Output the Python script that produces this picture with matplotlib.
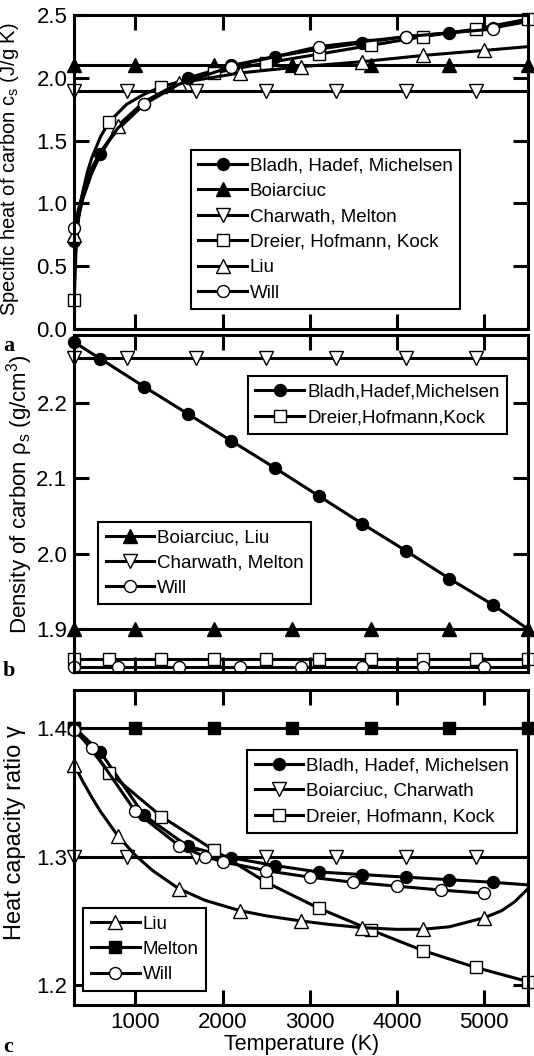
import matplotlib
matplotlib.use('Agg')
import matplotlib.pyplot as plt

plt.rcParams['font.family'] = ['Liberation Sans', 'DejaVu Sans']
plt.rcParams['mathtext.fontset'] = 'custom'
plt.rcParams['mathtext.rm'] = 'Liberation Sans'
plt.rcParams['mathtext.it'] = 'Liberation Sans'
plt.rcParams['mathtext.default'] = 'regular'

# ---------------- data: panel a, specific heat (J/g K) ----------------
a_bladh_T = [300, 350, 400, 500, 600, 700, 800, 1100, 1300, 1600, 2100, 2600, 3100, 3600, 4100, 4600, 5100, 5500]
a_bladh_v = [0.70, 0.90, 1.05, 1.25, 1.39, 1.50, 1.59, 1.79, 1.88, 2.00, 2.10, 2.17, 2.23, 2.28, 2.33, 2.36, 2.40, 2.45]
a_bladh_m = [300, 600, 1100, 1600, 2100, 2600, 3100, 3600, 4100, 4600, 5100]

a_boi_T = [300, 1000, 1900, 2800, 3700, 4600, 5500]
a_boi_v = [2.1, 2.1, 2.1, 2.1, 2.1, 2.1, 2.1]
a_boi_m = [300, 1000, 1900, 2800, 3700, 4600, 5500]

a_charw_T = [300, 900, 1700, 2500, 3300, 4100, 4900, 5500]
a_charw_v = [1.9, 1.9, 1.9, 1.9, 1.9, 1.9, 1.9, 1.9]
a_charw_m = [300, 900, 1700, 2500, 3300, 4100, 4900]

a_dreier_T = [300, 320, 350, 400, 450, 500, 600, 700, 900, 1100, 1300, 1600, 1900, 2500, 3100, 3700, 4300, 4900, 5500]
a_dreier_v = [0.23, 0.62, 0.88, 1.10, 1.25, 1.36, 1.53, 1.65, 1.79, 1.87, 1.93, 1.99, 2.04, 2.12, 2.19, 2.26, 2.33, 2.39, 2.47]
a_dreier_m = [300, 700, 1300, 1900, 2500, 3100, 3700, 4300, 4900, 5500]

a_liu_T = [300, 350, 400, 500, 600, 800, 1100, 1500, 2200, 2900, 3600, 4300, 5000, 5500]
a_liu_v = [0.75, 0.90, 1.04, 1.24, 1.39, 1.62, 1.81, 1.96, 2.04, 2.09, 2.13, 2.18, 2.22, 2.25]
a_liu_m = [300, 800, 1500, 2200, 2900, 3600, 4300, 5000]

a_will_T = [300, 350, 400, 500, 600, 800, 1100, 1500, 2100, 3100, 4100, 5100]
a_will_v = [0.80, 0.96, 1.09, 1.28, 1.41, 1.60, 1.79, 1.95, 2.09, 2.25, 2.33, 2.39]
a_will_m = [300, 1100, 2100, 3100, 4100, 5100]

# ---------------- data: panel b, density (g/cm3) ----------------
b_bladh_T = [300, 600, 1100, 1600, 2100, 2600, 3100, 3600, 4100, 4600, 5100, 5500]
b_bladh_v = [2.281, 2.259, 2.222, 2.186, 2.150, 2.114, 2.077, 2.040, 2.004, 1.967, 1.932, 1.900]
b_bladh_m = [300, 600, 1100, 1600, 2100, 2600, 3100, 3600, 4100, 4600, 5100]

b_boiliu_T = [300, 1000, 1900, 2800, 3700, 4600, 5500]
b_boiliu_v = [1.90, 1.90, 1.90, 1.90, 1.90, 1.90, 1.90]
b_boiliu_m = [300, 1000, 1900, 2800, 3700, 4600, 5500]

b_charw_T = [300, 900, 1700, 2500, 3300, 4100, 4900, 5500]
b_charw_v = [2.26, 2.26, 2.26, 2.26, 2.26, 2.26, 2.26, 2.26]
b_charw_m = [300, 900, 1700, 2500, 3300, 4100, 4900]

b_dreier_T = [300, 700, 1300, 1900, 2500, 3100, 3700, 4300, 4900, 5500]
b_dreier_v = [1.86, 1.86, 1.86, 1.86, 1.86, 1.86, 1.86, 1.86, 1.86, 1.86]
b_dreier_m = [300, 700, 1300, 1900, 2500, 3100, 3700, 4300, 4900, 5500]

b_will_T = [300, 800, 1500, 2200, 2900, 3600, 4300, 5000, 5500]
b_will_v = [1.85, 1.85, 1.85, 1.85, 1.85, 1.85, 1.85, 1.85, 1.85]
b_will_m = [300, 800, 1500, 2200, 2900, 3600, 4300, 5000]

# ---------------- data: panel c, heat capacity ratio ----------------
c_bladh_T = [300, 600, 1100, 1600, 2100, 2600, 3100, 3600, 4100, 4600, 5100, 5500]
c_bladh_v = [1.400, 1.381, 1.332, 1.308, 1.299, 1.293, 1.288, 1.286, 1.284, 1.282, 1.280, 1.278]
c_bladh_m = [300, 600, 1100, 1600, 2100, 2600, 3100, 3600, 4100, 4600, 5100]

c_boich_T = [300, 900, 1700, 2500, 3300, 4100, 4900, 5500]
c_boich_v = [1.30, 1.30, 1.30, 1.30, 1.30, 1.30, 1.30, 1.30]
c_boich_m = [300, 900, 1700, 2500, 3300, 4100, 4900]

c_dreier_T = [300, 700, 1300, 1900, 2500, 3100, 3700, 4300, 4900, 5500]
c_dreier_v = [1.400, 1.365, 1.331, 1.305, 1.280, 1.260, 1.243, 1.227, 1.214, 1.203]
c_dreier_m = [300, 700, 1300, 1900, 2500, 3100, 3700, 4300, 4900, 5500]

c_liu_T = [300, 400, 500, 600, 800, 1000, 1200, 1500, 1800, 2200, 2500, 2900, 3200, 3600, 4000, 4300, 4600, 5000, 5200, 5350, 5500]
c_liu_v = [1.371, 1.358, 1.346, 1.335, 1.316, 1.301, 1.289, 1.275, 1.266, 1.258, 1.254, 1.250, 1.2475, 1.2448, 1.2435, 1.2436, 1.2455, 1.2525, 1.258, 1.265, 1.275]
c_liu_m = [300, 800, 1500, 2200, 2900, 3600, 4300, 5000]

c_melton_T = [300, 1000, 1900, 2800, 3700, 4600, 5500]
c_melton_v = [1.40, 1.40, 1.40, 1.40, 1.40, 1.40, 1.40]
c_melton_m = [300, 1000, 1900, 2800, 3700, 4600, 5500]

c_will_T = [300, 500, 1000, 1500, 1800, 2000, 2500, 3000, 3500, 4000, 4500, 5000]
c_will_v = [1.398, 1.384, 1.335, 1.3085, 1.300, 1.296, 1.289, 1.284, 1.280, 1.277, 1.274, 1.2715]
c_will_m = [300, 500, 1000, 1500, 1800, 2000, 2500, 3000, 3500, 4000, 4500, 5000]

x_ticks = [1000, 2000, 3000, 4000, 5000]
a_yticks = [0.0, 0.5, 1.0, 1.5, 2.0, 2.5]
b_yticks = [1.9, 2.0, 2.1, 2.2]
c_yticks = [1.2, 1.3, 1.4]

# ---------------- styling ----------------
W, H = 534, 1056
fig = plt.figure(figsize=(W / 100, H / 100), dpi=100)


def rect(l, t, r, b):
    return [l / W, 1 - b / H, (r - l) / W, (b - t) / H]


axA = fig.add_axes(rect(74.25, 15.3, 527.9, 328.7))
axB = fig.add_axes(rect(74.25, 335.1, 527.9, 671.6))
axC = fig.add_axes(rect(74.25, 690.2, 527.9, 1005.3))

STY = {
    'bladh': dict(marker='o', mfc='k', ms=8.6),
    'boi': dict(marker='^', mfc='k', ms=9.6),
    'charw': dict(marker='v', mfc='w', ms=9.6),
    'dreier': dict(marker='s', mfc='w', ms=9.2),
    'liu': dict(marker='^', mfc='w', ms=9.6),
    'melton': dict(marker='s', mfc='k', ms=9.2),
    'will': dict(marker='o', mfc='w', ms=8.6),
}


def draw(ax, T, v, marks, key, label):
    idx = [T.index(t) for t in marks]
    ln, = ax.plot(T, v, color='k', lw=2.2, mec='k', mew=1.0, markevery=idx,
                  clip_on=False, label=label, solid_joinstyle='round',
                  **STY[key])
    return ln


def style_axes(ax, yticks, fmt, showx):
    ax.set_xlim(300, 5500)
    ax.set_xticks(x_ticks)
    ax.set_yticks(yticks)
    ax.set_yticklabels([fmt.format(t) for t in yticks])
    ax.tick_params(direction='in', length=11, width=2.2, top=True, right=True,
                   labelsize=16, pad=5)
    ax.tick_params(axis='x', pad=4.5)
    if not showx:
        ax.tick_params(axis='x', labelbottom=False)
    for s in ax.spines.values():
        s.set_linewidth(2.2)


def legend(ax, handles, x, y):
    lg = ax.legend(handles=handles, loc='upper left', bbox_to_anchor=(x, y),
                   borderaxespad=0, fontsize=13.5, numpoints=1, fancybox=False,
                   framealpha=1, edgecolor='k', handlelength=2.6,
                   handletextpad=0.15, labelspacing=0.44, borderpad=0.4)
    lg.get_frame().set_linewidth(1.5)
    return lg


# panel a
h1 = draw(axA, a_bladh_T, a_bladh_v, a_bladh_m, 'bladh', 'Bladh, Hadef, Michelsen')
h2 = draw(axA, a_boi_T, a_boi_v, a_boi_m, 'boi', 'Boiarciuc')
h3 = draw(axA, a_charw_T, a_charw_v, a_charw_m, 'charw', 'Charwath, Melton')
h4 = draw(axA, a_dreier_T, a_dreier_v, a_dreier_m, 'dreier', 'Dreier, Hofmann, Kock')
h5 = draw(axA, a_liu_T, a_liu_v, a_liu_m, 'liu', 'Liu')
h6 = draw(axA, a_will_T, a_will_v, a_will_m, 'will', 'Will')
axA.set_ylim(0, 2.5)
style_axes(axA, a_yticks, '{:.1f}', False)
legend(axA, [h1, h2, h3, h4, h5, h6], 0.257, 0.570)
axA.set_ylabel('Specific heat of carbon c$_s$ (J/g K)', fontsize=14.5, va='center')
axA.yaxis.set_label_coords(-0.143, 0.51)

# panel b
g1 = draw(axB, b_bladh_T, b_bladh_v, b_bladh_m, 'bladh', 'Bladh,Hadef,Michelsen')
g2 = draw(axB, b_boiliu_T, b_boiliu_v, b_boiliu_m, 'boi', 'Boiarciuc, Liu')
g3 = draw(axB, b_charw_T, b_charw_v, b_charw_m, 'charw', 'Charwath, Melton')
g4 = draw(axB, b_dreier_T, b_dreier_v, b_dreier_m, 'dreier', 'Dreier,Hofmann,Kock')
g5 = draw(axB, b_will_T, b_will_v, b_will_m, 'will', 'Will')
axB.set_ylim(1.8434, 2.2905)
style_axes(axB, b_yticks, '{:.1f}', False)
lgb = legend(axB, [g1, g4], 0.383, 0.878)
axB.add_artist(lgb)
legend(axB, [g2, g3, g5], 0.0524, 0.446)
axB.set_ylabel('Density of carbon ρ$_s$ (g/cm$^3$)', fontsize=16, va='center')
axB.yaxis.set_label_coords(-0.12, 0.528)

# panel c
k1 = draw(axC, c_bladh_T, c_bladh_v, c_bladh_m, 'bladh', 'Bladh, Hadef, Michelsen')
k2 = draw(axC, c_boich_T, c_boich_v, c_boich_m, 'charw', 'Boiarciuc, Charwath')
k3 = draw(axC, c_dreier_T, c_dreier_v, c_dreier_m, 'dreier', 'Dreier, Hofmann, Kock')
k4 = draw(axC, c_liu_T, c_liu_v, c_liu_m, 'liu', 'Liu')
k5 = draw(axC, c_melton_T, c_melton_v, c_melton_m, 'melton', 'Melton')
k6 = draw(axC, c_will_T, c_will_v, c_will_m, 'will', 'Will')
axC.set_ylim(1.1846, 1.429)
style_axes(axC, c_yticks, '{:.1f}', True)
lgc = legend(axC, [k1, k2, k3], 0.381, 0.811)
axC.add_artist(lgc)
legend(axC, [k4, k5, k6], 0.0202, 0.309)
axC.set_ylabel('Heat capacity ratio γ', fontsize=17, va='center')
axC.yaxis.set_label_coords(-0.13, 0.547)
axC.set_xlabel('Temperature (K)', fontsize=15.5, va='bottom')
axC.xaxis.set_label_coords(0.5, -0.158)

# panel letters
for letter, ybase in (('a', 351), ('b', 676), ('c', 1052)):
    fig.text(3 / W, 1 - ybase / H, letter, fontsize=16, fontweight='bold',
             family=['Liberation Serif', 'DejaVu Serif'], ha='left', va='baseline')

fig.savefig('out.png', dpi=100)
